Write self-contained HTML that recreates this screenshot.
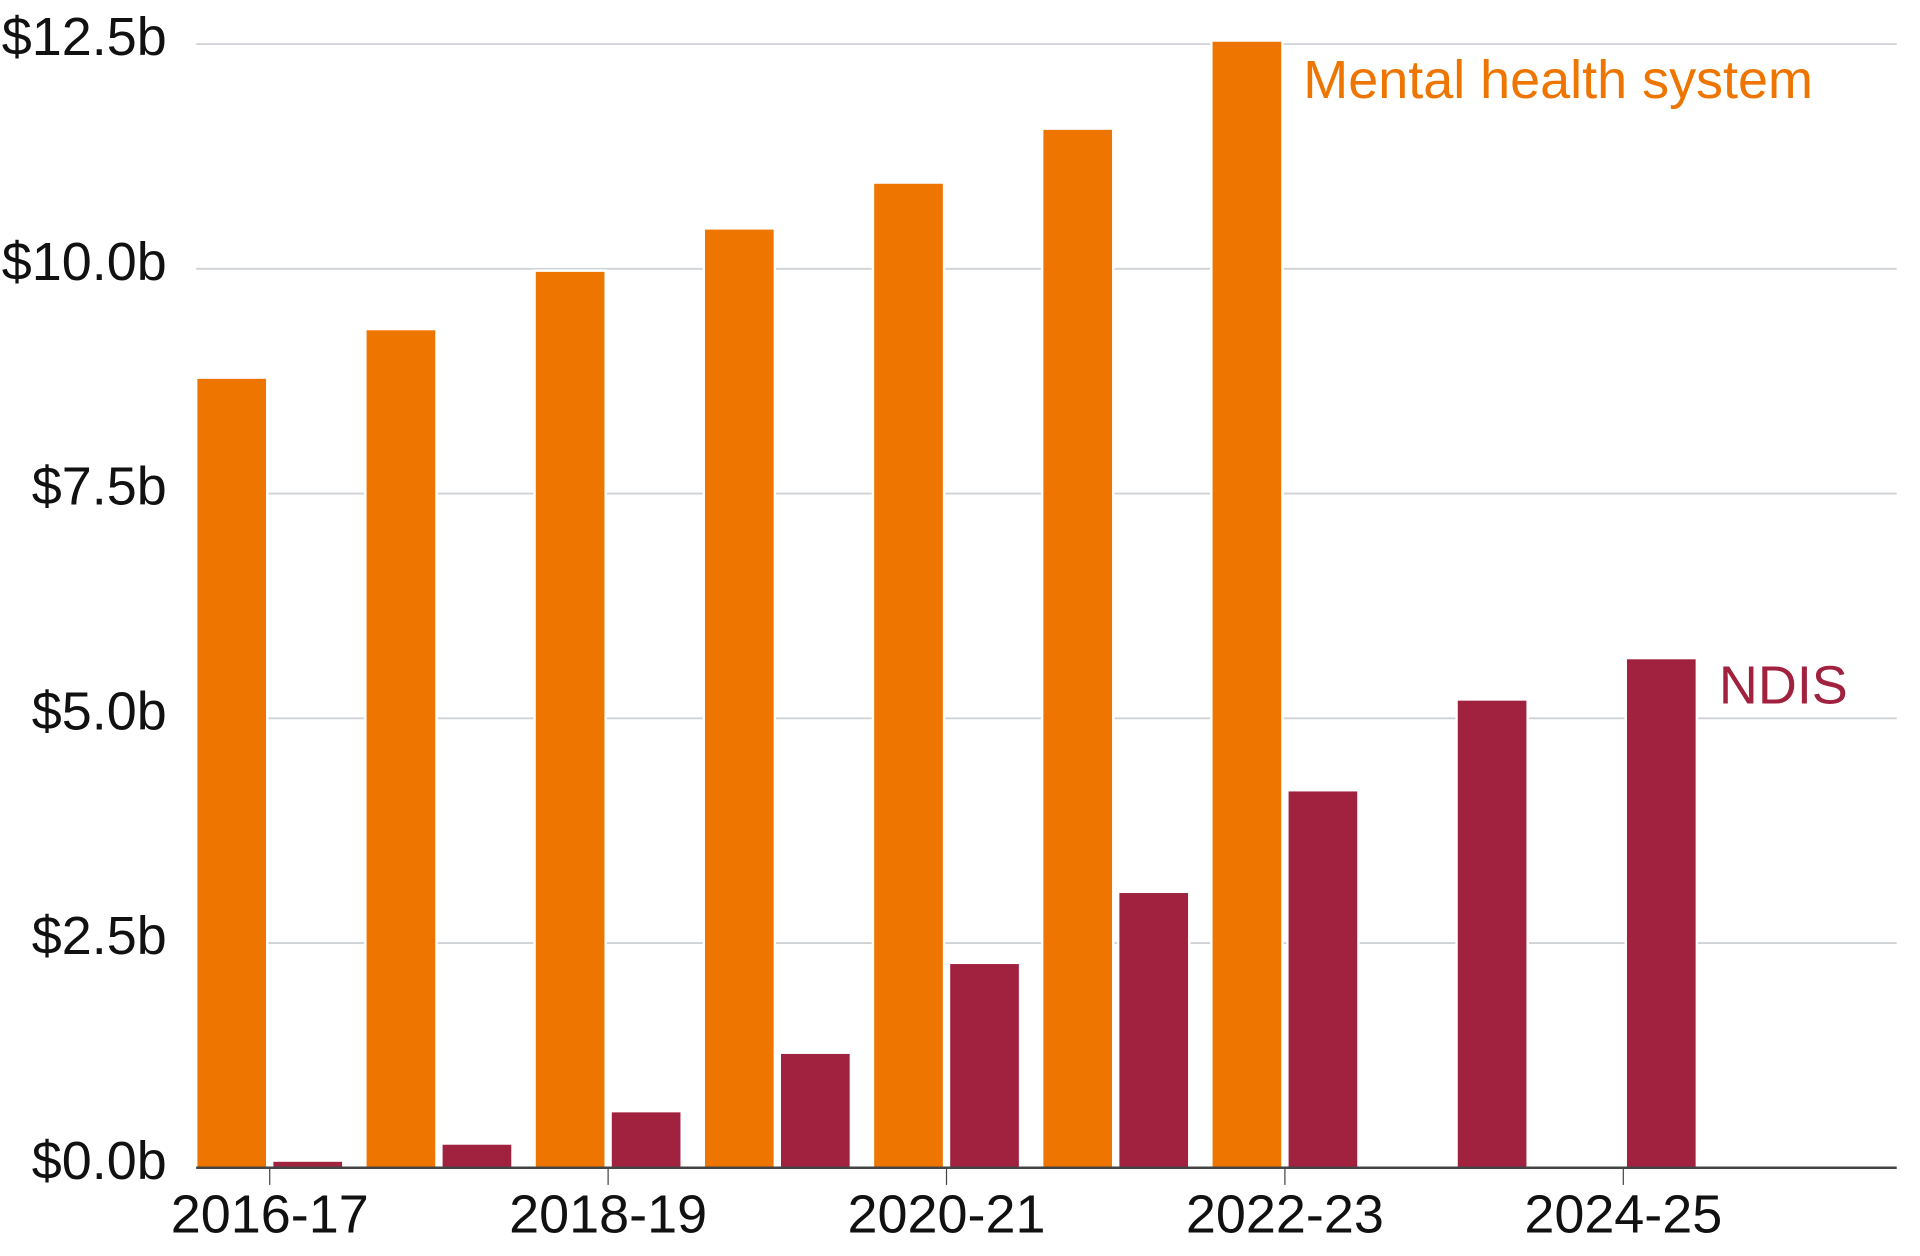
<!DOCTYPE html>
<html><head><meta charset="utf-8"><style>
html,body{margin:0;padding:0;background:#fff;}
svg{display:block;font-family:"Liberation Sans",Arial,sans-serif;}
</style></head><body>
<svg id="chart" width="1920" height="1256" viewBox="0 0 1566 1025" preserveAspectRatio="none" xmlns="http://www.w3.org/2000/svg">
<g id="grid"></g>
<g id="bars"></g>
<g id="axes"></g>
<text x="1063" y="80" font-size="44" fill="#EE7600">Mental health system</text>
<text x="1402" y="574" font-size="44" fill="#A0223F">NDIS</text>
</svg>
<script>
const categories = ["2016-17","2017-18","2018-19","2019-20","2020-21","2021-22","2022-23","2023-24","2024-25","2025-26"];
const mentalHealth = [8.79, 9.33, 9.98, 10.45, 10.96, 11.56, 12.54, null, null, null];
const ndis = [0.08, 0.27, 0.63, 1.28, 2.28, 3.07, 4.2, 5.21, 5.67, null];
const yTicks = [0, 2.5, 5, 7.5, 10, 12.5];
const yTickLabels = ["$0.0b","$2.5b","$5.0b","$7.5b","$10.0b","$12.5b"];
const xTickLabels = ["2016-17","2018-19","2020-21","2022-23","2024-25"];

const NS = "http://www.w3.org/2000/svg";
const plotLeft = 160, plotRight = 1547, base = 953, plotTop = 36, yMax = 12.5;
const step = 138, barW = 58;
const yScale = v => base - (v / yMax) * (base - plotTop);
const xStart = i => plotLeft + i * step;
function mk(tag, attrs, parent) {
  const e = document.createElementNS(NS, tag);
  for (const k in attrs) e.setAttribute(k, attrs[k]);
  parent.appendChild(e);
  return e;
}
const gridG = document.getElementById('grid');
const barsG = document.getElementById('bars');
const axesG = document.getElementById('axes');

yTicks.forEach((t, i) => {
  if (t > 0) {
    const l = mk('line', {x1: plotLeft, x2: plotRight, y1: yScale(t), y2: yScale(t), stroke: '#cfd2d6', 'stroke-width': 1.5}, gridG);
    
    
  }
  const tx = mk('text', {x: 136, y: yScale(t) + 9, 'text-anchor': 'end', 'font-size': 44, fill: '#111'}, axesG);
  
  
  tx.textContent = yTickLabels[i];
});

categories.forEach((c, i) => {
  if (mentalHealth[i] != null) {
    const r = mk('rect', {x: xStart(i), y: yScale(mentalHealth[i]), width: barW, height: base - yScale(mentalHealth[i]), fill: '#EE7600', stroke: '#fff', 'stroke-width': 2}, barsG);
    
    
  }
  if (ndis[i] != null) {
    const r = mk('rect', {x: xStart(i) + 62, y: yScale(ndis[i]), width: barW, height: base - yScale(ndis[i]), fill: '#A0223F', stroke: '#fff', 'stroke-width': 2}, barsG);
    
    
  }
});

const ax = mk('line', {x1: plotLeft, x2: plotRight, y1: base, y2: base, stroke: '#444', 'stroke-width': 2}, axesG);



xTickLabels.forEach(lab => {
  const i = categories.indexOf(lab);
  const cx = xStart(i) + 60;
  const tk = mk('line', {x1: cx, x2: cx, y1: base, y2: base + 14, stroke: '#444', 'stroke-width': 1}, axesG);
  
  
  const tx = mk('text', {x: cx, y: 1006, 'text-anchor': 'middle', 'font-size': 44, fill: '#111'}, axesG);
  
  
  tx.textContent = lab;
});
</script>
</body></html>
